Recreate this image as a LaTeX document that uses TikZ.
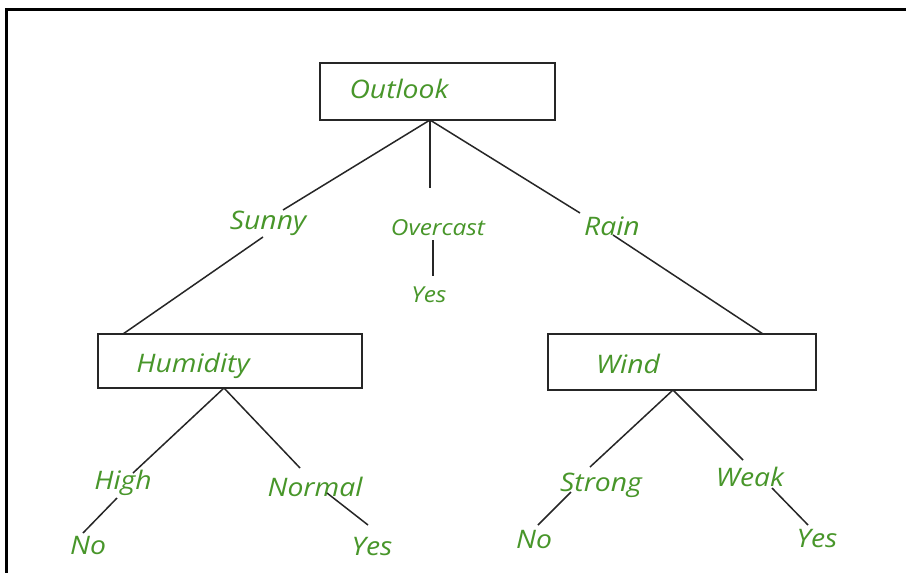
\documentclass[tikz,border=0pt]{standalone}
\usepackage{fontspec}
\setmainfont{Open Sans}[FakeStretch=1.11]
\definecolor{lblgreen}{RGB}{72,150,42}
\begin{document}
\begin{tikzpicture}[x=1pt,y=-1pt,
  lbl/.style={font=\itshape\fontsize{25.5}{28}\selectfont, text=lblgreen, inner sep=0pt},
  sml/.style={lbl, font=\itshape\fontsize{22}{24}\selectfont},
  box/.style={draw=black!85, line width=1.6pt, inner sep=0pt},
  edge/.style={draw=black!85, line width=1.5pt}]
\useasboundingbox (0,0) rectangle (906,573);
\fill[white] (0,0) rectangle (906,573);
% frame
\draw[line width=3pt] (6,573) -- (6,9.5) -- (906,9.5);
% boxes
\node[box, minimum width=235pt, minimum height=57pt] (outlook) at (437.5,91.5) {};
\node[box, minimum width=264pt, minimum height=54pt] (humidity) at (230,361) {};
\node[box, minimum width=268pt, minimum height=56pt] (wind) at (682,362) {};
% box texts
\node[lbl] (toutlook) at (399,89) {Outlook};
\node[lbl] (thumidity) at (193,366) {Humidity};
\node[lbl] (twind) at (628,364) {Wind};
% branch labels
\node[lbl] (sunny) at (268,223) {Sunny};
\node[sml] (overcast) at (438,228) {Overcast};
\node[sml] (yes1) at (429,295) {Yes};
\node[lbl] (rain) at (612,226) {Rain};
\node[lbl] (high) at (123,483) {High};
\node[lbl] (normal) at (315,487) {Normal};
\node[lbl] (no1) at (88,545) {No};
\node[lbl] (yes2) at (372,547) {Yes};
\node[lbl] (strong) at (601,485) {Strong};
\node[lbl] (weak) at (750,477) {Weak};
\node[lbl] (no2) at (534,539) {No};
\node[lbl] (yes3) at (817,539) {Yes};
% connector end points
\coordinate (oB) at (430,120);
\coordinate (sA) at (283,210);
\coordinate (sB) at (263,237);
\coordinate (hT) at (123,334);
\coordinate (ovA) at (430,188);
\coordinate (ovB) at (433,240);
\coordinate (ovC) at (433,276);
\coordinate (rA) at (580,213);
\coordinate (rB) at (613,235);
\coordinate (wT) at (763,334);
\coordinate (hB) at (224,388);
\coordinate (hiA) at (133,473);
\coordinate (noA) at (300,468);
\coordinate (hiB) at (117,498);
\coordinate (hiC) at (83,533);
\coordinate (noB) at (327,493);
\coordinate (noC) at (368,525);
\coordinate (wB) at (673,390);
\coordinate (stA) at (590,467);
\coordinate (weA) at (743,460);
\coordinate (stB) at (571,492);
\coordinate (stC) at (538,525);
\coordinate (weB) at (772,488);
\coordinate (weC) at (808,525);
% connectors
\draw[edge] (oB) -- (sA);
\draw[edge] (sB) -- (hT);
\draw[edge] (oB) -- (ovA);
\draw[edge] (ovB) -- (ovC);
\draw[edge] (oB) -- (rA);
\draw[edge] (rB) -- (wT);
\draw[edge] (hB) -- (hiA);
\draw[edge] (hB) -- (noA);
\draw[edge] (hiB) -- (hiC);
\draw[edge] (noB) -- (noC);
\draw[edge] (wB) -- (stA);
\draw[edge] (wB) -- (weA);
\draw[edge] (stB) -- (stC);
\draw[edge] (weB) -- (weC);
\end{tikzpicture}
\end{document}
